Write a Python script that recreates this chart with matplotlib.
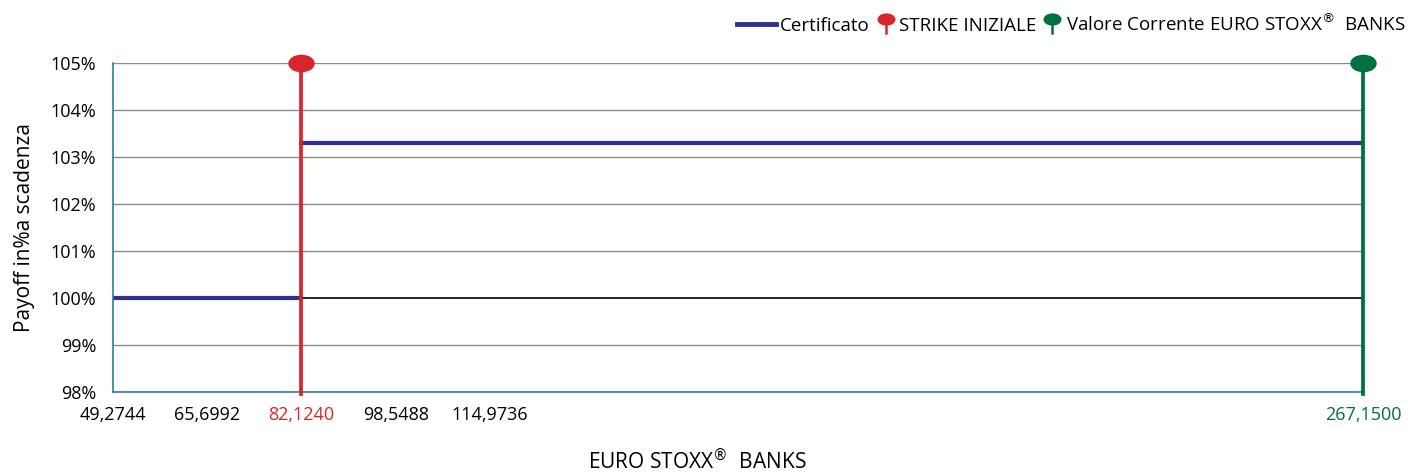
import numpy as np
import matplotlib.pyplot as plt
from matplotlib.path import Path
from matplotlib.lines import Line2D

plt.rcParams['font.family'] = ['Open Sans', 'DejaVu Sans']

# data
xticks = [49.2744, 65.6992, 82.1240, 98.5488, 114.9736, 267.1500]
xlabels = ['49,2744', '65,6992', '82,1240', '98,5488', '114,9736', '267,1500']
yticks = [98, 99, 100, 101, 102, 103, 104, 105]
cert_x = [49.2744, 82.1240, np.nan, 82.1240, 267.1500]
cert_y = [100.0, 100.0, np.nan, 103.3, 103.3]
strike = 82.1240
current = 267.1500

blue = '#2e3192'
red = '#d7262e'
green = '#00703c'
teal = '#2b7ea1'

W, H = 1408, 473
circ = Path.unit_circle()
ell = Path(circ.vertices * [1.0, 0.65], circ.codes)

fig = plt.figure(figsize=(W / 100, H / 100), dpi=100)
ax = fig.add_axes([113/W, 1 - 392/H, 1250/W, 329/H])

for y in yticks:
    if y == 100:
        ax.axhline(y, color='black', lw=1.2, zorder=1)
    else:
        ax.axhline(y, color='#8c8c8c', lw=1.0, zorder=1)

ax.plot(cert_x, cert_y, color=blue, lw=3, zorder=2)

ax.plot([strike, strike], [97.96, 105], color=red, lw=2.7, zorder=3, clip_on=False)
ax.plot([strike], [105], marker=ell, ms=18, color=red, zorder=4, clip_on=False)
ax.plot([current, current], [97.96, 105], color=green, lw=2.7, zorder=3, clip_on=False)
ax.plot([current], [105], marker=ell, ms=18, color=green, zorder=4, clip_on=False)

ax.set_xlim(xticks[0], xticks[-1])
ax.set_ylim(98, 105)
ax.set_xticks(xticks)
ax.set_xticklabels(xlabels, fontsize=13)
ax.get_xticklabels()[2].set_color(red)
ax.get_xticklabels()[-1].set_color(green)
ax.set_yticks(yticks)
ax.set_yticklabels(['%d%%' % y for y in yticks], fontsize=13)
ax.tick_params(axis='x', length=0, pad=10)
ax.tick_params(axis='y', length=0, pad=12)

for s in ['top', 'right']:
    ax.spines[s].set_visible(False)
for s in ['left', 'bottom']:
    ax.spines[s].set_color(teal)
    ax.spines[s].set_linewidth(1.2)

ax.set_ylabel('Payoff in%a scadenza', fontsize=15, labelpad=11)
fig.text(0.495, 1 - 468/H, 'EURO STOXX$^{\u00ae}$  BANKS', fontsize=15, ha='center', va='baseline')

# legend drawn by hand (pixel positions)
def fx(px):
    return px / W

def fy(py):
    return 1 - py / H

fig.add_artist(Line2D([fx(737), fx(776)], [fy(24), fy(24)], color=blue, lw=3.5))
fig.text(fx(780), fy(31), 'Certificato', fontsize=13.5, va='baseline')
for cx, col in [(886, red), (1052, green)]:
    fig.add_artist(Line2D([fx(cx), fx(cx)], [fy(20), fy(33)], color=col, lw=1.8))
    fig.add_artist(Line2D([fx(cx)], [fy(19)], marker=ell, ms=12, color=col))
fig.text(fx(899), fy(31), 'STRIKE INIZIALE', fontsize=13.5, va='baseline')
fig.text(fx(1066), fy(31), 'Valore Corrente EURO STOXX$^{\u00ae}$  BANKS',
         fontsize=13.5, va='baseline')

fig.savefig('out.png', dpi=100)
